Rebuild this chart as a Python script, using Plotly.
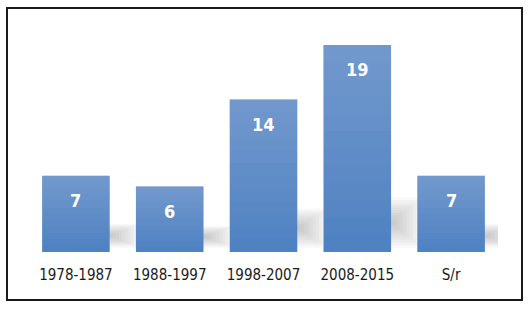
import plotly.graph_objects as go

categories = ["1978-1987", "1988-1997", "1998-2007", "2008-2015", "S/r"]
values = [7, 6, 14, 19, 7]

W, H = 532, 311
L, R, T, B = 29, 34, 34, 59
pw, ph = W - L - R, H - T - B
YMAX = 20
bar_half = 0.36
FONT = "DejaVu Sans Condensed, Liberation Sans Narrow, Arial Narrow, sans-serif"

fig = go.Figure()
fig.add_trace(go.Bar(
    x=list(range(len(categories))), y=values,
    marker=dict(color="#4a7fc1", line=dict(width=0)),
    hoverinfo="skip", showlegend=False,
))

shapes = []
# soft blurred shadows behind bars (nested translucent rects)
NS = 10
for i, v in enumerate(values):
    c = 0.8 + 0.1 * v
    hh = 0.4 + 0.1 * v
    for k in range(NS):
        f = (k + 1) / NS
        shapes.append(dict(
            type="rect", xref="x", yref="y", layer="below",
            x0=i, x1=i + bar_half + 0.33 * f,
            y0=max(0.05, c - hh * f), y1=c + hh * f,
            fillcolor="rgba(110,110,110,0.045)", line=dict(width=0),
        ))
# vertical gradient overlay (lighter at top)
N = 12
for i, v in enumerate(values):
    for k in range(N):
        shapes.append(dict(
            type="rect", xref="x", yref="y", layer="above",
            x0=i - bar_half, x1=i + bar_half,
            y0=v * (1 - (k + 1) / N), y1=v,
            fillcolor="rgba(255,255,255,0.022)", line=dict(width=0),
        ))
# outer border
shapes.append(dict(
    type="rect", xref="paper", yref="paper",
    x0=(7 - L) / pw, x1=(522 - L) / pw,
    y0=(H - B - 300) / ph, y1=(H - B - 8) / ph,
    line=dict(color="#1a1a1a", width=2), fillcolor="rgba(0,0,0,0)",
))

annotations = [
    dict(x=i, y=v, xref="x", yref="y", text=str(v), showarrow=False,
         yshift=-25, font=dict(family=FONT, size=18, color="white", weight="bold"))
    for i, v in enumerate(values)
]

fig.update_layout(
    width=W, height=H,
    margin=dict(l=L, r=R, t=T, b=B, pad=0),
    paper_bgcolor="white", plot_bgcolor="white",
    bargap=0.28,
    shapes=shapes, annotations=annotations,
    xaxis=dict(
        tickmode="array", tickvals=list(range(len(categories))), ticktext=categories,
        range=[-0.5, len(categories) - 0.5],
        showgrid=False, zeroline=False, showline=False, ticks="",
        ticklabelstandoff=12,
        tickfont=dict(family=FONT, size=15, color="#1a1a1a"),
    ),
    yaxis=dict(range=[0, YMAX], visible=False),
)

fig.write_html("out.html", config={"displayModeBar": False},
               post_script="document.body.style.margin='0';")
